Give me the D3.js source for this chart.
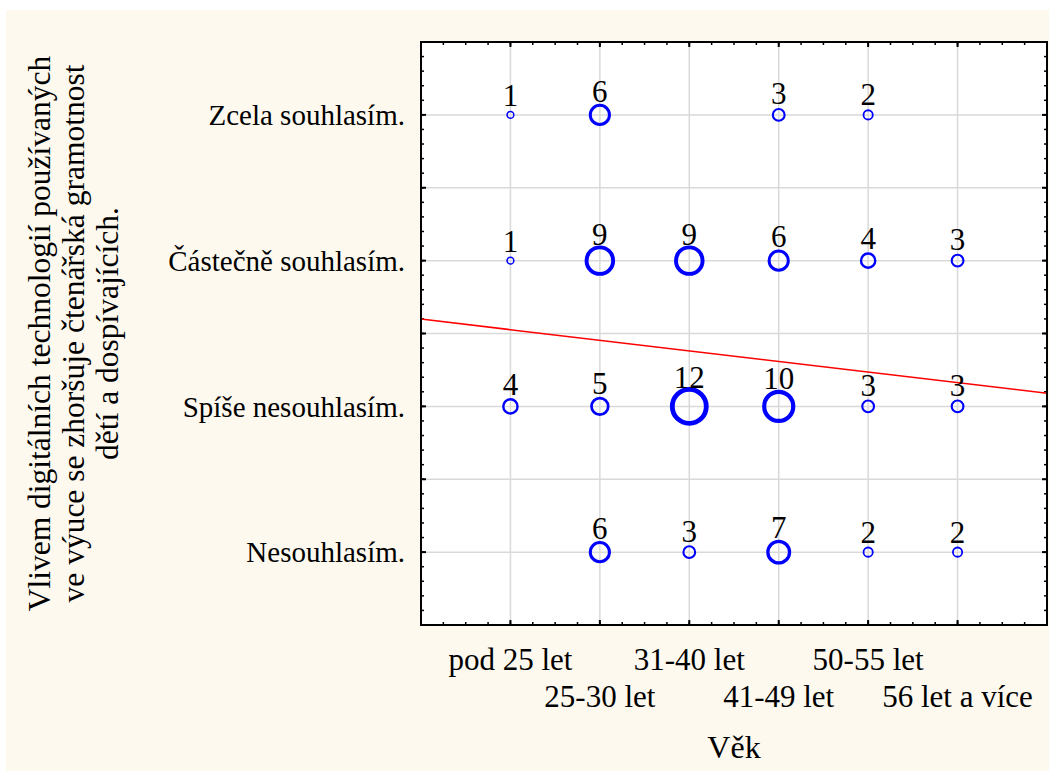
<!DOCTYPE html>
<html>
<head>
<meta charset="utf-8">
<script src="https://cdn.jsdelivr.net/npm/d3@7"></script>
<style>
  html, body { margin: 0; padding: 0; background: #ffffff; }
</style>
</head>
<body>
<script>
// age groups on the x axis (1..6)
var ageGroups = ["pod 25 let", "25-30 let", "31-40 let", "41-49 let", "50-55 let", "56 let a více"];
// answers on the y axis, bottom (1) to top (4)
var answers = ["Nesouhlasím.", "Spíše nesouhlasím.", "Částečně souhlasím.", "Zcela souhlasím."];

// counts per answer, one value per age group (0 = no bubble)
var zcela     = [1, 6, 0, 3, 2, 0];
var castecne  = [1, 9, 9, 6, 4, 3];
var spiseNe   = [4, 5, 12, 10, 3, 3];
var nesouhlas = [0, 6, 3, 7, 2, 2];
var countsByAnswer = [nesouhlas, spiseNe, castecne, zcela];

var yTitle = ["Vlivem digitálních technologií používaných",
              "ve výuce se zhoršuje čtenářská gramotnost",
              "dětí a dospívajících."];
var xTitle = "Věk";

var W = 1049, H = 771;
var plot = { left: 421, top: 42, right: 1047, bottom: 625 };
var FONT = "'Liberation Serif', 'Times New Roman', serif";

var svg = d3.select("body").append("svg")
    .attr("width", W)
    .attr("height", H)
    .attr("font-family", FONT)
    .attr("font-size", 31);

// cream panel
svg.append("rect")
    .attr("x", 6).attr("y", 10)
    .attr("width", W - 6).attr("height", H - 10)
    .attr("fill", "#fdf9ee");

svg.append("rect")
    .attr("x", plot.left).attr("y", plot.top)
    .attr("width", plot.right - plot.left).attr("height", plot.bottom - plot.top)
    .attr("fill", "#ffffff");

var x = d3.scaleLinear().domain([0, 7]).range([plot.left, plot.right]);
var y = d3.scaleLinear().domain([0.5, 4.5]).range([plot.bottom, plot.top]);

// flatten to points
var points = [];
countsByAnswer.forEach(function(row, i) {
    row.forEach(function(v, j) {
        if (v > 0) points.push({ x: j + 1, y: i + 1, v: v });
    });
});

var r = d3.scaleLinear().domain([1, 12]).range([3.4, 17]);
var sw = d3.scaleLinear().domain([1, 12]).range([1.5, 4.8]);

// grid
var grid = svg.append("g");
grid.selectAll(".gx").data(d3.range(1, 7)).enter().append("line")
    .attr("x1", function(d) { return x(d); }).attr("x2", function(d) { return x(d); })
    .attr("y1", plot.top).attr("y2", plot.bottom)
    .attr("stroke", "#d9d9d9").attr("stroke-width", 1.5);
grid.selectAll(".gy").data(d3.range(1, 9).map(function(d) { return 0.5 + d * 0.5; })).enter().append("line")
    .attr("x1", plot.left).attr("x2", plot.right)
    .attr("y1", function(d) { return y(d); }).attr("y2", function(d) { return y(d); })
    .attr("stroke", "#d9d9d9").attr("stroke-width", 1.5);

// ticks on all four sides, pointing inward
var xMajor = d3.range(0, 8), xMinor = d3.range(0, 28).map(function(d) { return d * 0.25; });
var yMajor = d3.range(1, 9).map(function(d) { return 0.5 + d * 0.5; });
var yMinor = d3.range(0, 40).map(function(d) { return 0.5 + d * 0.1; });

var ticks = svg.append("g").attr("stroke", "#000");
function hTicks(vals, len, w) {
    vals.forEach(function(v) {
        ticks.append("line").attr("x1", x(v)).attr("x2", x(v))
            .attr("y1", plot.top).attr("y2", plot.top + len).attr("stroke-width", w);
        ticks.append("line").attr("x1", x(v)).attr("x2", x(v))
            .attr("y1", plot.bottom).attr("y2", plot.bottom - len).attr("stroke-width", w);
    });
}
function vTicks(vals, len, w) {
    vals.forEach(function(v) {
        ticks.append("line").attr("y1", y(v)).attr("y2", y(v))
            .attr("x1", plot.left).attr("x2", plot.left + len).attr("stroke-width", w);
        ticks.append("line").attr("y1", y(v)).attr("y2", y(v))
            .attr("x1", plot.right).attr("x2", plot.right - len).attr("stroke-width", w);
    });
}
hTicks(xMinor, 3, 1.5);
hTicks(xMajor, 5, 2);
vTicks(yMinor, 3, 1.5);
vTicks(yMajor, 5, 2);

// weighted linear regression of answer on age group
var n = d3.sum(points, function(p) { return p.v; });
var mx = d3.sum(points, function(p) { return p.v * p.x; }) / n;
var my = d3.sum(points, function(p) { return p.v * p.y; }) / n;
var sxy = d3.sum(points, function(p) { return p.v * (p.x - mx) * (p.y - my); });
var sxx = d3.sum(points, function(p) { return p.v * (p.x - mx) * (p.x - mx); });
var slope = sxy / sxx, icpt = my - slope * mx;

svg.append("line")
    .attr("x1", x(0)).attr("y1", y(icpt))
    .attr("x2", x(7)).attr("y2", y(icpt + slope * 7))
    .attr("stroke", "#ff0000").attr("stroke-width", 1.5);

// bubbles
svg.append("g").selectAll("circle").data(points).enter().append("circle")
    .attr("cx", function(d) { return x(d.x); })
    .attr("cy", function(d) { return y(d.y); })
    .attr("r", function(d) { return r(d.v); })
    .attr("fill", "none")
    .attr("stroke", "#0000ff")
    .attr("stroke-width", function(d) { return sw(d.v); });

svg.append("g").selectAll("text").data(points).enter().append("text")
    .attr("x", function(d) { return x(d.x); })
    .attr("y", function(d) { return y(d.y) - (r(d.v) * 0.75 + 6); })
    .attr("text-anchor", "middle")
    .text(function(d) { return d.v; });

// frame
svg.append("rect")
    .attr("x", plot.left).attr("y", plot.top)
    .attr("width", plot.right - plot.left).attr("height", plot.bottom - plot.top)
    .attr("fill", "none").attr("stroke", "#000").attr("stroke-width", 2);

// y tick labels
svg.append("g").selectAll("text").data(answers).enter().append("text")
    .attr("x", 405)
    .attr("y", function(d, i) { return y(i + 1); })
    .attr("dy", "0.35em")
    .attr("text-anchor", "end")
    .attr("font-size", 29)
    .text(function(d) { return d; });

// x tick labels, staggered
svg.append("g").selectAll("text").data(ageGroups).enter().append("text")
    .attr("x", function(d, i) { return x(i + 1); })
    .attr("y", function(d, i) { return i % 2 === 0 ? 670 : 707; })
    .attr("text-anchor", "middle")
    .attr("font-size", 31)
    .text(function(d) { return d; });

svg.append("text")
    .attr("x", (plot.left + plot.right) / 2).attr("y", 758)
    .attr("text-anchor", "middle")
    .attr("font-size", 32)
    .text(xTitle);

// rotated y title
var yt = svg.append("text")
    .attr("transform", "translate(0," + ((plot.top + plot.bottom) / 2) + ") rotate(-90)")
    .attr("text-anchor", "middle")
    .attr("font-size", 31.5);
yTitle.forEach(function(line, i) {
    yt.append("tspan").attr("x", 0).attr("y", 50 + i * 34).text(line);
});
</script>
</body>
</html>
